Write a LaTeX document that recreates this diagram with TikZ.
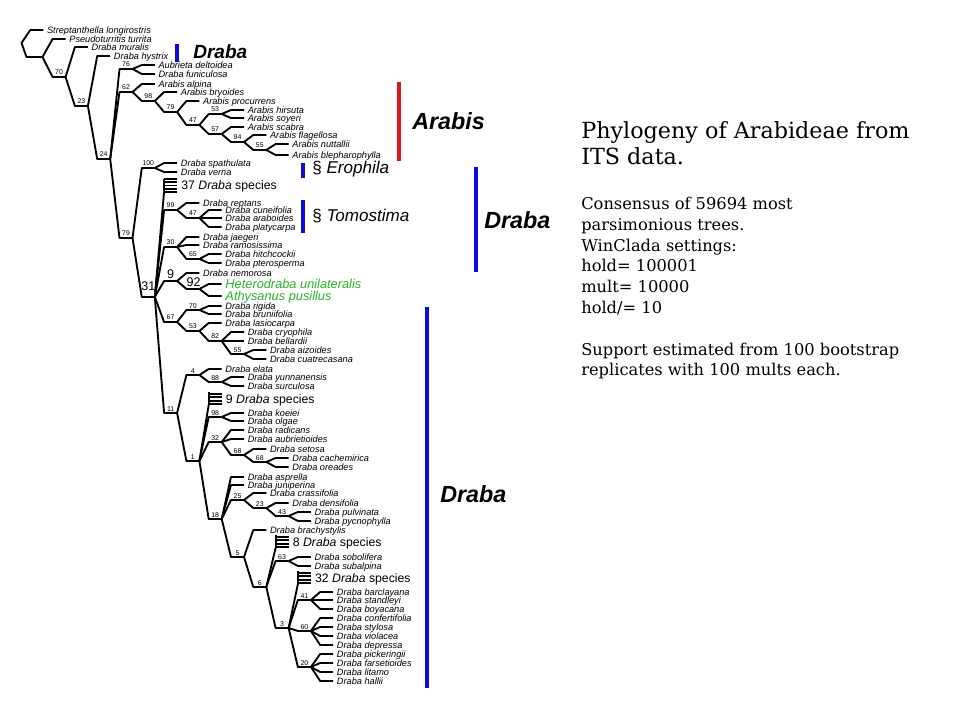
\documentclass[tikz,border=0pt]{standalone}
\usepackage{fontspec}
\setmainfont{DejaVu Serif}
\newfontfamily\arialf{Liberation Sans}
\definecolor{barblue}{RGB}{10,10,225}
\definecolor{barred}{RGB}{220,25,25}
\definecolor{leafgreen}{RGB}{40,180,40}
\tikzset{
  branch/.style={line width=1.4pt, line join=round},
  leaf/.style={anchor=base west, inner sep=0pt, font=\arialf\itshape\fontsize{6.9}{8}\selectfont},
  greenleaf/.style={leaf, text=leafgreen, font=\arialf\itshape\fontsize{9.6}{11}\selectfont},
  nlab/.style={anchor=base, inner sep=0pt, font=\arialf\fontsize{5.2}{6}\selectfont},
  biglab/.style={anchor=base, inner sep=0pt, font=\arialf\fontsize{9.4}{11}\selectfont},
  combtext/.style={anchor=base west, inner sep=0pt, font=\arialf\fontsize{9.2}{11}\selectfont},
  bar/.style={line width=3pt},
  cladelab/.style={anchor=base west, inner sep=0pt, font=\arialf\bfseries\itshape\fontsize{17.5}{20}\selectfont},
  seclab/.style={anchor=base west, inner sep=0pt, font=\arialf\fontsize{12.8}{15}\selectfont},
  titletext/.style={anchor=base west, inner sep=0pt, font=\fontsize{16.7}{20}\selectfont},
  bodytext/.style={anchor=base west, inner sep=0pt, font=\fontsize{12.2}{15}\selectfont},
}
% internal node: coordinates only
\newcommand\TPoint[3]{%
  \coordinate (#1-l) at ({8+22.3*#2},#3);
  \coordinate (#1-r) at ({21+22.3*#2},#3);}
% internal node with small support label
\newcommand\TNode[4]{%
  \TPoint{#1}{#2}{#3}%
  \node[nlab] (#1-t) at ({14.5+22.3*#2},{#3-2}) {#4};}
% leaf
\newcommand\TLeaf[4]{%
  \TPoint{#1}{#2}{#3}%
  \node[leaf] (#1) at ({24.5+22.3*#2},{#3+3.2}) {#4};}
\newcommand\TLeafG[4]{%
  \TPoint{#1}{#2}{#3}%
  \node[greenleaf] (#1) at ({24.5+22.3*#2},{#3+4.4}) {#4};}
% collapsed clade (comb)
\newcommand\TComb[5]{%
  \coordinate (#1-t) at ({8+22.3*#2},{#3-6.6});
  \coordinate (#1-l) at ({8+22.3*#2},{#3+6});
  \coordinate (#1-r) at ({8+22.3*#2},{#3+6});
  \foreach \dy in {#5} {\draw[branch] ({8+22.3*#2},{#3+\dy}) -- ++(13,0);}
  \draw[branch] (#1-t) -- (#1-l);
  \node[combtext] (#1) at ({25+22.3*#2},{#3+4.3}) {#4};}
% edges from a parent to its children
\newcommand\TEdges[2]{\foreach \cc in {#2} {\draw[branch] (#1-r) -- (\cc-l) -- (\cc-r);}}

\begin{document}
\begin{tikzpicture}[x=0.75pt,y=-0.75pt]
\useasboundingbox (0,0) rectangle (960,720);
\fill[white] (0,0) rectangle (960,720);

% ---------- tree nodes ----------
\coordinate (root-l) at (26.5,57);
\coordinate (root-r) at (42.5,57);
\coordinate (root-b) at (21.5,43);
\TLeaf{strep}{1}{30}{Streptanthella longirostris}
\TLeaf{pseud}{2}{39}{Pseudoturritis turrita}
\TNode{n70}{2}{77}{70}
\TLeaf{mural}{3}{47}{Draba muralis}
\TNode{n23}{3}{106}{23}
\TLeaf{hystr}{4}{56}{Draba hystrix}
\TNode{n24}{4}{159}{24}
\TNode{n76}{5}{69}{76}
\TLeaf{aubri}{6}{65}{Aubrieta deltoidea}
\TLeaf{funic}{6}{74}{Draba funiculosa}
\TNode{n62}{5}{92}{62}
\TLeaf{alpin}{6}{84}{Arabis alpina}
\TNode{n98}{6}{101}{98}
\TLeaf{bryoi}{7}{92}{Arabis bryoides}
\TNode{n79}{7}{112}{79}
\TLeaf{procu}{8}{101}{Arabis procurrens}
\TNode{n47}{8}{125}{47}
\TNode{n53}{9}{114}{53}
\TLeaf{hirsu}{10}{110}{Arabis hirsuta}
\TLeaf{soyer}{10}{118}{Arabis soyeri}
\TNode{n57}{9}{134}{57}
\TLeaf{scabr}{10}{127}{Arabis scabra}
\TNode{n94}{10}{142}{94}
\TLeaf{flage}{11}{135}{Arabis flagellosa}
\TNode{n55}{11}{150}{55}
\TLeaf{nutta}{12}{144}{Arabis nuttallii}
\TLeaf{bleph}{12}{155}{Arabis blepharophylla}
\TNode{n79b}{5}{238}{79}
\TNode{n100}{6}{168}{100}
\TLeaf{spath}{7}{163}{Draba spathulata}
\TLeaf{verna}{7}{172}{Draba verna}
\TPoint{n31}{6}{297}
\node[biglab] (n31-t) at (148.3,290.5) {31};
\TComb{c37}{7}{185.5}{37 \textit{Draba} species}{-6.6,-3.3,0,3.3,6.6}
\TNode{n99}{7}{210}{99}
\TLeaf{rept}{8}{203}{Draba reptans}
\TNode{n47b}{8}{218}{47}
\TLeaf{cunei}{9}{210}{Draba cuneifolia}
\TLeaf{arabo}{9}{218}{Draba araboides}
\TLeaf{platy}{9}{227}{Draba platycarpa}
\TNode{n30}{7}{247}{30}
\TLeaf{jaege}{8}{237}{Draba jaegeri}
\TLeaf{ramos}{8}{245}{Draba ramosissima}
\TNode{n65}{8}{259}{65}
\TLeaf{hitch}{9}{254}{Draba hitchcockii}
\TLeaf{ptero}{9}{263}{Draba pterosperma}
\TPoint{n9}{7}{281}
\node[biglab] (n9-t) at (170.6,278.5) {9};
\TLeaf{nemor}{8}{273}{Draba nemorosa}
\TPoint{n92}{8}{289}
\node[biglab] (n92-t) at (193.5,286.3) {92};
\TLeafG{heter}{9}{284}{Heterodraba unilateralis}
\TLeafG{athys}{9}{296}{Athysanus pusillus}
\TNode{n67}{7}{322}{67}
\TNode{n70b}{8}{310}{70}
\TLeaf{rigid}{9}{306}{Draba rigida}
\TLeaf{bruni}{9}{314}{Draba bruniifolia}
\TNode{n53b}{8}{331}{53}
\TLeaf{lasio}{9}{323}{Draba lasiocarpa}
\TNode{n82}{9}{341}{82}
\TLeaf{cryop}{10}{332}{Draba cryophila}
\TLeaf{bella}{10}{341}{Draba bellardii}
\TNode{n55b}{10}{354}{55}
\TLeaf{aizoi}{11}{350}{Draba aizoides}
\TLeaf{cuatr}{11}{359}{Draba cuatrecasana}
\TNode{n11}{7}{413}{11}
\TNode{n4}{8}{375}{4}
\TLeaf{elata}{9}{369}{Draba elata}
\TNode{n88}{9}{382}{88}
\TLeaf{yunna}{10}{377}{Draba yunnanensis}
\TLeaf{surcu}{10}{386}{Draba surculosa}
\TNode{n1}{8}{461}{1}
\TComb{c9}{9}{399}{9 \textit{Draba} species}{-5,-1.67,1.67,5}
\TNode{n98b}{9}{417}{98}
\TLeaf{koeie}{10}{413}{Draba koeiei}
\TLeaf{olgae}{10}{421}{Draba olgae}
\TNode{n32}{9}{442}{32}
\TLeaf{radic}{10}{430}{Draba radicans}
\TLeaf{aubti}{10}{439}{Draba aubrietioides}
\TNode{n68}{10}{455}{68}
\TLeaf{setos}{11}{449}{Draba setosa}
\TNode{n68b}{11}{462}{68}
\TLeaf{cache}{12}{458}{Draba cachemirica}
\TLeaf{oread}{12}{467}{Draba oreades}
\TNode{n18}{9}{519}{18}
\TLeaf{aspre}{10}{477}{Draba asprella}
\TLeaf{junip}{10}{485}{Draba juniperina}
\TNode{n25}{10}{500}{25}
\TLeaf{crass}{11}{493}{Draba crassifolia}
\TNode{n23b}{11}{508}{23}
\TLeaf{densi}{12}{503}{Draba densifolia}
\TNode{n43}{12}{516}{43}
\TLeaf{pulvi}{13}{512}{Draba pulvinata}
\TLeaf{pycno}{13}{521}{Draba pycnophylla}
\TNode{n5}{10}{557}{5}
\TLeaf{brach}{11}{530}{Draba brachystylis}
\TNode{n6}{11}{587}{6}
\TComb{c8}{12}{542}{8 \textit{Draba} species}{-5,-1.67,1.67,5}
\TNode{n63}{12}{561}{63}
\TLeaf{sobol}{13}{557}{Draba sobolifera}
\TLeaf{subal}{13}{566}{Draba subalpina}
\TNode{n3}{12}{628}{3}
\TComb{c32}{13}{578}{32 \textit{Draba} species}{-5,-1.67,1.67,5}
\TNode{n41}{13}{600}{41}
\TLeaf{barcl}{14}{592}{Draba barclayana}
\TLeaf{stand}{14}{600}{Draba standleyi}
\TLeaf{boyac}{14}{609}{Draba boyacana}
\TNode{n60}{13}{631}{60}
\TLeaf{confe}{14}{618}{Draba confertifolia}
\TLeaf{stylo}{14}{627}{Draba stylosa}
\TLeaf{viola}{14}{636}{Draba violacea}
\TLeaf{depre}{14}{645}{Draba depressa}
\TNode{n20}{13}{667}{20}
\TLeaf{picke}{14}{654}{Draba pickeringii}
\TLeaf{farse}{14}{663}{Draba farsetioides}
\TLeaf{litam}{14}{672}{Draba litamo}
\TLeaf{halli}{14}{681}{Draba hallii}

% ---------- branches ----------
\draw[branch] (strep-r) -- (strep-l) -- (root-b) -- (root-l) -- (root-r);
\TEdges{root}{pseud,n70}
\TEdges{n70}{mural,n23}
\TEdges{n23}{hystr,n24}
\TEdges{n24}{n76,n62,n79b}
\TEdges{n76}{aubri,funic}
\TEdges{n62}{alpin,n98}
\TEdges{n98}{bryoi,n79}
\TEdges{n79}{procu,n47}
\TEdges{n47}{n53,n57}
\TEdges{n53}{hirsu,soyer}
\TEdges{n57}{scabr,n94}
\TEdges{n94}{flage,n55}
\TEdges{n55}{nutta,bleph}
\TEdges{n79b}{n100,n31}
\TEdges{n100}{spath,verna}
\TEdges{n31}{c37,n99,n30,n9,n67,n11}
\TEdges{n99}{rept,n47b}
\TEdges{n47b}{cunei,arabo,platy}
\TEdges{n30}{jaege,ramos,n65}
\TEdges{n65}{hitch,ptero}
\TEdges{n9}{nemor,n92}
\TEdges{n92}{heter,athys}
\TEdges{n67}{n70b,n53b}
\TEdges{n70b}{rigid,bruni}
\TEdges{n53b}{lasio,n82}
\TEdges{n82}{cryop,bella,n55b}
\TEdges{n55b}{aizoi,cuatr}
\TEdges{n11}{n4,n1}
\TEdges{n4}{elata,n88}
\TEdges{n88}{yunna,surcu}
\TEdges{n1}{c9,n98b,n32,n18}
\TEdges{n98b}{koeie,olgae}
\TEdges{n32}{radic,aubti,n68}
\TEdges{n68}{setos,n68b}
\TEdges{n68b}{cache,oread}
\TEdges{n18}{aspre,junip,n25,n5}
\TEdges{n25}{crass,n23b}
\TEdges{n23b}{densi,n43}
\TEdges{n43}{pulvi,pycno}
\TEdges{n5}{brach,n6}
\TEdges{n6}{c8,n63,n3}
\TEdges{n63}{sobol,subal}
\TEdges{n3}{c32,n41,n60,n20}
\TEdges{n41}{barcl,stand,boyac}
\TEdges{n60}{confe,stylo,viola,depre}
\TEdges{n20}{picke,farse,litam,halli}

% ---------- clade bars and labels ----------
\draw[bar, barblue] (177,44) -- (177,62);
\node[cladelab, font=\arialf\bfseries\itshape\fontsize{14.3}{17}\selectfont] (lab-d1) at (193,59) {Draba};
\draw[bar, barred] (399,82) -- (399,161);
\node[cladelab] (lab-ar) at (412,130) {Arabis};
\draw[bar, barblue] (302.5,163) -- (302.5,178);
\node[seclab] (lab-er) at (312,174) {§ \textit{Erophila}};
\draw[bar, barblue] (302.5,200) -- (302.5,233);
\node[seclab] (lab-to) at (312,222) {§ \textit{Tomostima}};
\draw[bar, barblue] (476,167) -- (476,272);
\node[cladelab] (lab-d2) at (484,229) {Draba};
\draw[bar, barblue] (427,307) -- (427,688);
\node[cladelab] (lab-d3) at (440,502) {Draba};

% ---------- caption ----------
\node[titletext] (t1) at (581,138.3) {Phylogeny of Arabideae from};
\node[titletext] (t2) at (581,165) {ITS data.};
\node[bodytext] (b1) at (581,209.5) {Consensus of 59694 most};
\node[bodytext] (b2) at (581,230.3) {parsimonious trees.};
\node[bodytext] (b3) at (581,251.1) {WinClada settings:};
\node[bodytext] (b4) at (581,271.9) {hold= 100001};
\node[bodytext] (b5) at (581,292.7) {mult= 10000};
\node[bodytext] (b6) at (581,313.5) {hold/= 10};
\node[bodytext] (b7) at (581,355.1) {Support estimated from 100 bootstrap};
\node[bodytext] (b8) at (581,375.9) {replicates with 100 mults each.};
\end{tikzpicture}
\end{document}
